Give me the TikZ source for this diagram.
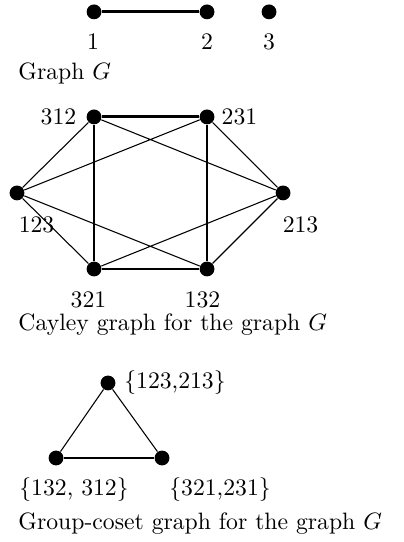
\documentclass[tikz,border=0pt]{standalone}
\tikzset{vtx/.style={circle,fill,inner sep=0pt,minimum size=0.22cm},
  lbl/.style={inner sep=0pt},
  heavy/.style={line width=1.2pt},
  light/.style={line width=0.45pt}}
\begin{document}
\begin{tikzpicture}
\useasboundingbox (0,0) rectangle (5.98,8.04);
% graph G
\node[vtx] (g1) at (1.395,7.864) {};
\node[vtx] (g2) at (3.071,7.864) {};
\node[vtx] (g3) at (3.991,7.864) {};
\draw[heavy] (g1) -- (g2);
\node[lbl] (l1) at (1.38,7.42) {1};
\node[lbl] (l2) at (3.071,7.42) {2};
\node[lbl] (l3) at (3.99,7.42) {3};
\node[lbl,anchor=base west] (capg) at (0.267,6.855) {Graph $G$};
% Cayley graph
\node[vtx] (c312) at (1.395,6.306) {};
\node[vtx] (c231) at (3.071,6.306) {};
\node[vtx] (c123) at (0.252,5.178) {};
\node[vtx] (c213) at (4.199,5.178) {};
\node[vtx] (c321) at (1.395,4.050) {};
\node[vtx] (c132) at (3.071,4.050) {};
\draw[heavy] (c312) -- (c231) -- (c132) -- (c321) -- (c312);
\draw[light] (c312) -- (c123) -- (c231) -- (c213) -- (c312);
\draw[light] (c321) -- (c123) -- (c132) -- (c213) -- (c321);
\node[lbl] (l312) at (0.868,6.306) {312};
\node[lbl] (l231) at (3.553,6.306) {231};
\node[lbl] (l123) at (0.542,4.703) {123};
\node[lbl] (l213) at (4.458,4.703) {213};
\node[lbl] (l321) at (1.313,3.591) {321};
\node[lbl] (l132) at (3.004,3.591) {132};
\node[lbl,anchor=base west] (capc) at (0.267,3.131) {Cayley graph for the graph $G$};
% group-coset graph
\node[vtx] (s1) at (1.602,2.359) {};
\node[vtx] (s2) at (0.831,1.246) {};
\node[vtx] (s3) at (2.404,1.246) {};
\draw[light] (s2) -- (s1) -- (s3);
\draw[heavy] (s2) -- (s3);
\node[lbl] (ls1) at (2.596,2.359) {$\{$123,213$\}$};
\node[lbl] (ls2) at (1.098,0.772) {$\{$132, 312$\}$};
\node[lbl] (ls3) at (3.264,0.772) {$\{$321,231$\}$};
\node[lbl,anchor=base west] (caps) at (0.267,0.178) {Group-coset graph for the graph $G$};
\end{tikzpicture}
\end{document}
